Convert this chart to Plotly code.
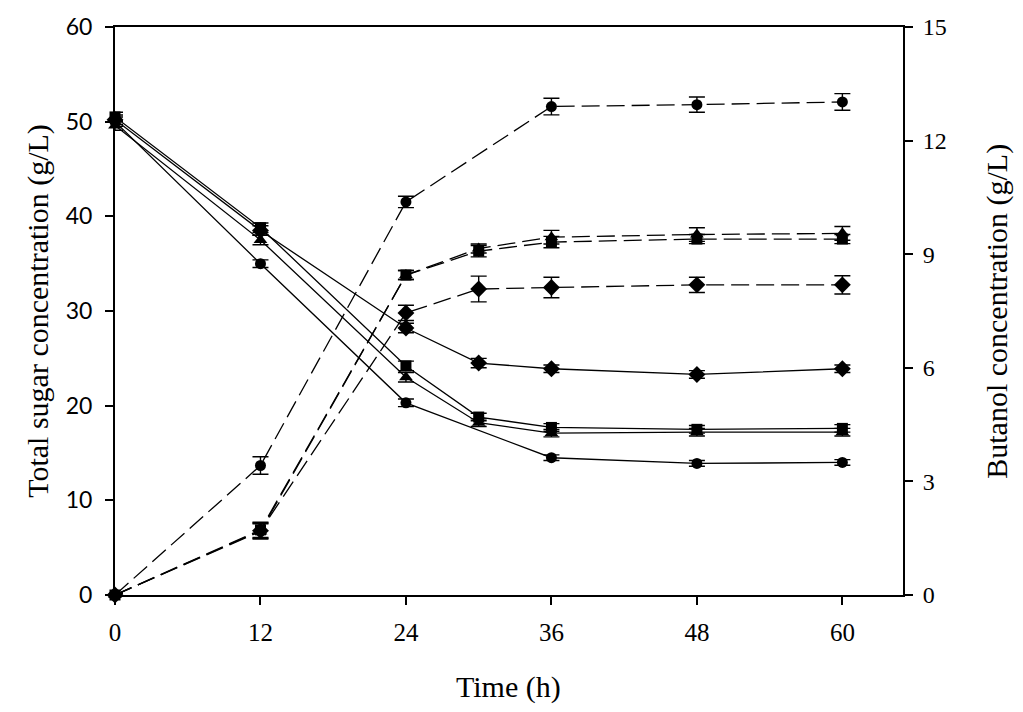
import plotly.graph_objs as go

# sampling times (h); the circle series has no 30 h sample
time_all = [0, 12, 24, 30, 36, 48, 60]
time_circle = [0, 12, 24, 36, 48, 60]

# total sugar (g/L), left axis
sugar_circle = [50.0, 35.0, 20.3, 14.5, 13.9, 14.0]
sugar_circle_err = [0.5, 0.4, 0.4, 0.3, 0.3, 0.3]
sugar_square = [50.5, 38.8, 24.2, 18.8, 17.7, 17.5, 17.6]
sugar_square_err = [0.5, 0.5, 0.5, 0.4, 0.4, 0.4, 0.4]
sugar_triangle = [49.6, 37.5, 23.0, 18.2, 17.1, 17.2, 17.2]
sugar_triangle_err = [0.5, 0.5, 0.5, 0.4, 0.4, 0.4, 0.4]
sugar_diamond = [50.2, 38.5, 28.2, 24.5, 23.9, 23.3, 23.9]
sugar_diamond_err = [0.5, 0.5, 0.5, 0.5, 0.4, 0.4, 0.4]

# butanol (g/L), right axis
butanol_circle = [0, 3.42, 10.38, 12.9, 12.95, 13.02]
butanol_circle_err = [0.05, 0.23, 0.15, 0.22, 0.2, 0.22]
butanol_square = [0, 1.72, 8.45, 9.08, 9.32, 9.4, 9.4]
butanol_square_err = [0.05, 0.2, 0.12, 0.15, 0.15, 0.12, 0.12]
butanol_triangle = [0, 1.68, 8.45, 9.15, 9.45, 9.52, 9.55]
butanol_triangle_err = [0.05, 0.2, 0.12, 0.12, 0.18, 0.18, 0.18]
butanol_diamond = [0, 1.7, 7.45, 8.08, 8.12, 8.19, 8.19]
butanol_diamond_err = [0.05, 0.2, 0.2, 0.34, 0.27, 0.2, 0.24]

x_ticks = [0, 12, 24, 36, 48, 60]

serif = "Liberation Serif, Times New Roman, serif"


def add_series(fig, x, y, err, symbol, size, dashed, axis):
    fig.add_trace(
        go.Scatter(
            x=x,
            y=y,
            yaxis=axis,
            mode="lines+markers",
            line=dict(color="black", width=1.3, dash="18px,7px" if dashed else "solid"),
            marker=dict(symbol=symbol, size=size, color="black"),
            error_y=dict(type="data", array=err, color="black", thickness=1.4, width=8),
            cliponaxis=False,
            showlegend=False,
        )
    )


fig = go.Figure()

add_series(fig, time_circle, sugar_circle, sugar_circle_err, "circle", 11, False, "y")
add_series(fig, time_all, sugar_square, sugar_square_err, "square", 11, False, "y")
add_series(fig, time_all, sugar_triangle, sugar_triangle_err, "triangle-up", 12, False, "y")
add_series(fig, time_all, sugar_diamond, sugar_diamond_err, "diamond", 13, False, "y")

add_series(fig, time_circle, butanol_circle, butanol_circle_err, "circle", 11, True, "y2")
add_series(fig, time_all, butanol_square, butanol_square_err, "square", 11, True, "y2")
add_series(fig, time_all, butanol_triangle, butanol_triangle_err, "triangle-up", 12, True, "y2")
add_series(fig, time_all, butanol_diamond, butanol_diamond_err, "diamond", 13, True, "y2")

fig.update_layout(
    width=1023,
    height=712,
    margin=dict(l=115, r=120, t=27, b=117),
    plot_bgcolor="white",
    paper_bgcolor="white",
    showlegend=False,
    xaxis=dict(
        range=[0, 65],
        tickvals=x_ticks,
        showline=True,
        mirror=True,
        linecolor="black",
        linewidth=2,
        ticks="outside",
        ticklen=8,
        tickwidth=1.5,
        tickcolor="black",
        ticklabelstandoff=6,
        showgrid=False,
        zeroline=False,
        tickfont=dict(family=serif, size=25, color="black"),
    ),
    yaxis=dict(
        range=[0, 60],
        dtick=10,
        showline=True,
        linecolor="black",
        linewidth=2,
        ticks="outside",
        ticklen=8,
        tickwidth=1.5,
        tickcolor="black",
        ticklabelstandoff=8,
        showgrid=False,
        zeroline=False,
        tickfont=dict(family="Lato, Open Sans, sans-serif", size=23, color="black"),
    ),
    yaxis2=dict(
        range=[0, 15],
        dtick=3,
        overlaying="y",
        side="right",
        showline=True,
        linecolor="black",
        linewidth=2,
        ticks="outside",
        ticklen=8,
        tickwidth=1.5,
        tickcolor="black",
        ticklabelstandoff=5,
        showgrid=False,
        zeroline=False,
        tickfont=dict(family=serif, size=24, color="black"),
    ),
    annotations=[
        dict(
            text="Total sugar concentration (g/L)",
            xref="paper", yref="paper", x=-0.098, y=0.5,
            textangle=-90, showarrow=False, xanchor="center", yanchor="middle",
            font=dict(family=serif, size=30, color="black"),
        ),
        dict(
            text="Butanol concentration (g/L)",
            xref="paper", yref="paper", x=1.119, y=0.5,
            textangle=-90, showarrow=False, xanchor="center", yanchor="middle",
            font=dict(family=serif, size=30, color="black"),
        ),
        dict(
            text="Time (h)",
            xref="paper", yref="paper", x=0.499, y=-0.162,
            showarrow=False, xanchor="center", yanchor="middle",
            font=dict(family=serif, size=30, color="black"),
        ),
    ],
)

# drop the default page margin so the figure sits at the window corner
fig.write_html(
    "out.html",
    config={"displayModeBar": False},
    post_script="document.body.style.margin = '0';",
)
